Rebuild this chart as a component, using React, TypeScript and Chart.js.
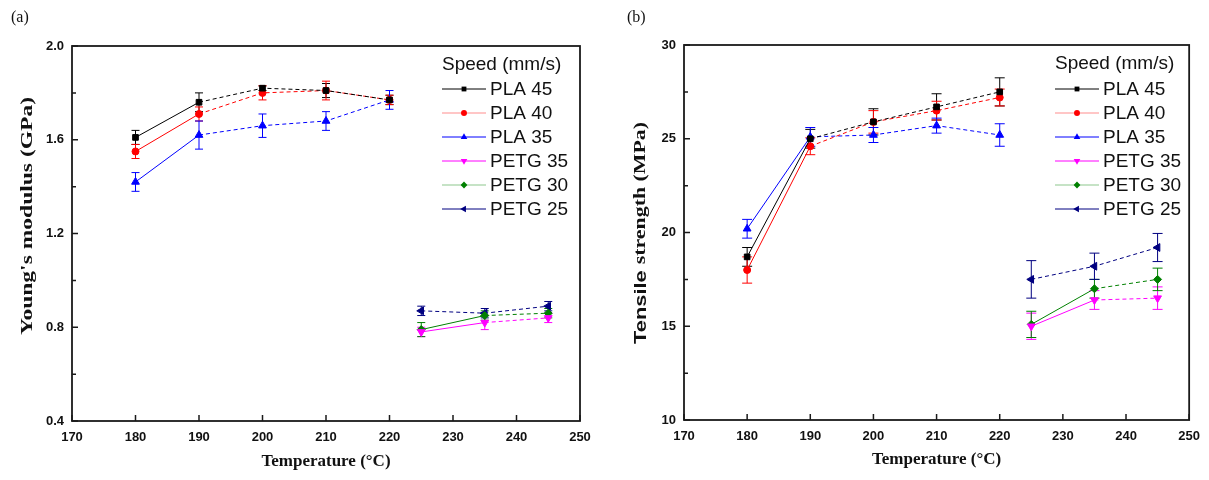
import React, { useEffect, useRef } from 'react';
import { Chart, registerables } from 'chart.js';

Chart.register(...registerables);

// ---------- data ----------
const seriesNames = ['PLA 45', 'PLA 40', 'PLA 35', 'PETG 35', 'PETG 30', 'PETG 25'];
const plaTemps = [180, 190, 200, 210, 220];
const petgTemps = [225, 235, 245];
const xTicksMin = 170;
const xTicksMax = 250;

// (a) Young's modulus (GPa)
const modPLA45 = [1.61, 1.76, 1.82, 1.81, 1.77];
const modPLA45Err = [0.03, 0.04, 0.01, 0.03, 0.02];
const modPLA40 = [1.55, 1.71, 1.80, 1.81, 1.77];
const modPLA40Err = [0.03, 0.03, 0.03, 0.04, 0.02];
const modPLA35 = [1.42, 1.62, 1.66, 1.68, 1.77];
const modPLA35Err = [0.04, 0.06, 0.05, 0.04, 0.04];
const modPETG35 = [0.78, 0.82, 0.84];
const modPETG35Err = [0.02, 0.03, 0.02];
const modPETG30 = [0.79, 0.85, 0.86];
const modPETG30Err = [0.03, 0.02, 0.02];
const modPETG25 = [0.87, 0.86, 0.89];
const modPETG25Err = [0.02, 0.02, 0.02];

// (b) Tensile strength (MPa)
const tsPLA45 = [18.7, 25.0, 25.9, 26.7, 27.5];
const tsPLA45Err = [0.5, 0.5, 0.7, 0.7, 0.75];
const tsPLA40 = [18.0, 24.6, 25.9, 26.5, 27.2];
const tsPLA40Err = [0.7, 0.45, 0.6, 0.5, 0.45];
const tsPLA35 = [20.2, 25.1, 25.2, 25.7, 25.2];
const tsPLA35Err = [0.5, 0.5, 0.4, 0.4, 0.6];
const tsPETG35 = [15.0, 16.4, 16.5];
const tsPETG35Err = [0.7, 0.5, 0.6];
const tsPETG30 = [15.1, 17.0, 17.5];
const tsPETG30Err = [0.7, 0.5, 0.6];
const tsPETG25 = [17.5, 18.2, 19.2];
const tsPETG25Err = [1.0, 0.7, 0.75];

// ---------- styles ----------
const colors = ['#000000', '#ff0000', '#0000ff', '#ff00ff', '#008000', '#000080'];
const pointStyles = ['rect', 'circle', 'triangle', 'triangle', 'rectRot', 'triangle'];
const pointRotations = [0, 0, 0, 180, 0, 270];
const pointRadii = [4, 3.5, 4.5, 4.5, 4, 4.5];
const allDashed = [false, false, false, false, false, true];

const SANS = "'Liberation Sans', Arial, sans-serif";
const SERIF = "'Liberation Serif', 'Times New Roman', serif";

function drawMarker(ctx: CanvasRenderingContext2D, style: string, rotDeg: number, x: number, y: number, r: number, color: string) {
  ctx.save();
  ctx.fillStyle = color;
  ctx.strokeStyle = color;
  ctx.beginPath();
  const rot = (rotDeg * Math.PI) / 180;
  if (style === 'circle') {
    ctx.arc(x, y, r, 0, Math.PI * 2);
  } else if (style === 'rect') {
    const s = Math.SQRT1_2 * r;
    ctx.rect(x - s, y - s, 2 * s, 2 * s);
  } else if (style === 'rectRot') {
    ctx.moveTo(x - r, y);
    ctx.lineTo(x, y - r);
    ctx.lineTo(x + r, y);
    ctx.lineTo(x, y + r);
    ctx.closePath();
  } else {
    let a = rot;
    ctx.moveTo(x + Math.sin(a) * r, y - Math.cos(a) * r);
    a += (2 * Math.PI) / 3;
    ctx.lineTo(x + Math.sin(a) * r, y - Math.cos(a) * r);
    a += (2 * Math.PI) / 3;
    ctx.lineTo(x + Math.sin(a) * r, y - Math.cos(a) * r);
    ctx.closePath();
  }
  ctx.fill();
  ctx.restore();
}

type Part = { text: string; font: string };
type Cfg = {
  values: number[][];
  errs: number[][];
  yMin: number;
  yMax: number;
  yStep: number;
  yDec: number;
  yTitle: Part[];
  yTitleX: number;
  yTitleY: number;
  yTitleLen: number;
  xTitleY: number;
  panel: string;
  panelX: number;
  panelY: number;
  legendX: number;
  legendTitleY: number;
  legendRowY: number;
  yWidth: number;
  xHeight: number;
  padTop: number;
  padRight: number;
  capHalf: number;
};

function makeConfig(cfg: Cfg): any {
  const datasets = seriesNames.map((name, i) => {
    const temps = i < 3 ? plaTemps : petgTemps;
    return {
      label: name,
      data: temps.map((t, j) => ({ x: t, y: cfg.values[i][j] })),
      borderColor: colors[i],
      backgroundColor: colors[i],
      pointStyle: pointStyles[i],
      pointRotation: pointRotations[i],
      pointRadius: pointRadii[i],
      pointBorderWidth: 1,
      borderWidth: 1,
      fill: false,
      tension: 0,
      segment: {
        borderDash: (ctx: any) => (allDashed[i] || ctx.p0DataIndex > 0 ? [4, 3] : undefined),
      },
    };
  });

  const decor = {
    id: 'decor',
    beforeDatasetsDraw(chart: any) {
      const ctx: CanvasRenderingContext2D = chart.ctx;
      const ys = chart.scales.y;
      ctx.save();
      ctx.lineWidth = 1;
      chart.data.datasets.forEach((ds: any, i: number) => {
        const meta = chart.getDatasetMeta(i);
        ctx.strokeStyle = colors[i];
        meta.data.forEach((pt: any, j: number) => {
          const v = cfg.values[i][j];
          const e = cfg.errs[i][j];
          const yt = ys.getPixelForValue(v + e);
          const yb = ys.getPixelForValue(v - e);
          const x = pt.x;
          ctx.beginPath();
          ctx.moveTo(x, yt);
          ctx.lineTo(x, yb);
          ctx.moveTo(x - cfg.capHalf, yt);
          ctx.lineTo(x + cfg.capHalf, yt);
          ctx.moveTo(x - cfg.capHalf, yb);
          ctx.lineTo(x + cfg.capHalf, yb);
          ctx.stroke();
        });
      });
      ctx.restore();
    },
    afterDraw(chart: any) {
      const ctx: CanvasRenderingContext2D = chart.ctx;
      const a = chart.chartArea;
      const xs = chart.scales.x;
      const ys = chart.scales.y;
      ctx.save();
      // frame
      ctx.strokeStyle = '#1a1a1a';
      ctx.lineWidth = 1.8;
      ctx.strokeRect(a.left, a.top, a.right - a.left, a.bottom - a.top);
      // inward ticks
      ctx.lineWidth = 1.5;
      ctx.beginPath();
      for (let v = cfg.yMin; v <= cfg.yMax + 1e-9; v += cfg.yStep / 2) {
        const k = Math.round((v - cfg.yMin) / (cfg.yStep / 2));
        const py = ys.getPixelForValue(v);
        const len = k % 2 === 0 ? 6 : 4;
        ctx.moveTo(a.left, py);
        ctx.lineTo(a.left + len, py);
      }
      for (let t = xTicksMin; t <= xTicksMax; t += 10) {
        const px = xs.getPixelForValue(t);
        ctx.moveTo(px, a.bottom);
        ctx.lineTo(px, a.bottom - 6);
      }
      ctx.stroke();

      ctx.fillStyle = '#111';
      // x title
      ctx.font = `bold 17px ${SERIF}`;
      ctx.textAlign = 'center';
      ctx.textBaseline = 'middle';
      ctx.fillText('Temperature (°C)', (a.left + a.right) / 2, cfg.xTitleY);

      // y title
      ctx.save();
      ctx.translate(cfg.yTitleX, cfg.yTitleY);
      ctx.rotate(-Math.PI / 2);
      let total = 0;
      const widths = cfg.yTitle.map((p) => {
        ctx.font = p.font;
        const w = ctx.measureText(p.text).width;
        total += w;
        return w;
      });
      ctx.scale(cfg.yTitleLen / total, 1);
      ctx.textAlign = 'left';
      let cx = -total / 2;
      cfg.yTitle.forEach((p, k) => {
        ctx.font = p.font;
        ctx.fillText(p.text, cx, 0);
        cx += widths[k];
      });
      ctx.restore();

      // panel label
      ctx.font = `16px ${SERIF}`;
      ctx.textAlign = 'left';
      ctx.textBaseline = 'middle';
      ctx.fillText(cfg.panel, cfg.panelX, cfg.panelY);

      // legend
      ctx.font = `19px ${SANS}`;
      ctx.fillStyle = '#111';
      ctx.fillText('Speed (mm/s)', cfg.legendX, cfg.legendTitleY);
      seriesNames.forEach((name, i) => {
        const y = cfg.legendRowY + i * 24;
        ctx.strokeStyle = colors[i];
        ctx.globalAlpha = i === 1 || i === 4 ? 0.45 : 1;
        ctx.lineWidth = 1;
        ctx.beginPath();
        ctx.moveTo(cfg.legendX, y);
        ctx.lineTo(cfg.legendX + 44, y);
        ctx.stroke();
        ctx.globalAlpha = 1;
        drawMarker(ctx, pointStyles[i], pointRotations[i], cfg.legendX + 22, y, pointRadii[i] * 0.85, colors[i]);
        ctx.fillStyle = '#111';
        ctx.font = `19px ${SANS}`;
        ctx.fillText(name, cfg.legendX + 48, y + 1);
      });
      ctx.restore();
    },
  };

  const tickFont = { family: SANS, weight: 'bold' as const, size: 13 };
  return {
    type: 'line',
    data: { datasets },
    options: {
      responsive: false,
      animation: false,
      events: [],
      layout: { padding: { left: 0, right: cfg.padRight, top: cfg.padTop, bottom: 0 } },
      plugins: { legend: { display: false }, tooltip: { enabled: false } },
      scales: {
        x: {
          type: 'linear',
          min: xTicksMin,
          max: xTicksMax,
          ticks: { stepSize: 10, font: tickFont, color: '#111', padding: 9, maxRotation: 0, autoSkip: false },
          grid: { display: false, drawTicks: false },
          border: { display: false },
          afterFit: (s: any) => {
            s.height = cfg.xHeight;
          },
        },
        y: {
          type: 'linear',
          min: cfg.yMin,
          max: cfg.yMax,
          ticks: {
            stepSize: cfg.yStep,
            font: tickFont,
            color: '#111',
            padding: 8,
            callback: (v: any) => Number(v).toFixed(cfg.yDec),
          },
          grid: { display: false, drawTicks: false },
          border: { display: false },
          afterFit: (s: any) => {
            s.width = cfg.yWidth;
          },
        },
      },
    },
    plugins: [decor],
  };
}

export default function App() {
  const leftRef = useRef<HTMLCanvasElement>(null);
  const rightRef = useRef<HTMLCanvasElement>(null);

  useEffect(() => {
    document.body.style.margin = '0';
    const left = new Chart(
      leftRef.current as HTMLCanvasElement,
      makeConfig({
        values: [modPLA45, modPLA40, modPLA35, modPETG35, modPETG30, modPETG25],
        errs: [modPLA45Err, modPLA40Err, modPLA35Err, modPETG35Err, modPETG30Err, modPETG25Err],
        yMin: 0.4,
        yMax: 2.0,
        yStep: 0.4,
        yDec: 1,
        yTitle: [{ text: "Young's modulus (GPa)", font: `bold 17px ${SERIF}` }],
        yTitleX: 28,
        yTitleY: 216,
        yTitleLen: 238,
        xTitleY: 462,
        panel: '(a)',
        panelX: 11,
        panelY: 18,
        legendX: 442,
        legendTitleY: 65,
        legendRowY: 89,
        yWidth: 72,
        xHeight: 59,
        padTop: 46,
        padRight: 20,
        capHalf: 4,
      })
    );
    const right = new Chart(
      rightRef.current as HTMLCanvasElement,
      makeConfig({
        values: [tsPLA45, tsPLA40, tsPLA35, tsPETG35, tsPETG30, tsPETG25],
        errs: [tsPLA45Err, tsPLA40Err, tsPLA35Err, tsPETG35Err, tsPETG30Err, tsPETG25Err],
        yMin: 10,
        yMax: 30,
        yStep: 5,
        yDec: 0,
        yTitle: [
          { text: 'Tensile ', font: `bold 17px ${SANS}` },
          { text: 'strength (MPa)', font: `bold 17px ${SERIF}` },
        ],
        yTitleX: 37,
        yTitleY: 233,
        yTitleLen: 222,
        xTitleY: 460,
        panel: '(b)',
        panelX: 23,
        panelY: 18,
        legendX: 451,
        legendTitleY: 64,
        legendRowY: 89,
        yWidth: 80,
        xHeight: 60,
        padTop: 45,
        padRight: 18,
        capHalf: 5,
      })
    );
    return () => {
      left.destroy();
      right.destroy();
    };
  }, []);

  return (
    <div style={{ position: 'relative', width: 1209, height: 480, background: '#ffffff' }}>
      <canvas ref={leftRef} width={600} height={480} style={{ position: 'absolute', left: 0, top: 0 }} />
      <canvas ref={rightRef} width={605} height={480} style={{ position: 'absolute', left: 604, top: 0 }} />
    </div>
  );
}
